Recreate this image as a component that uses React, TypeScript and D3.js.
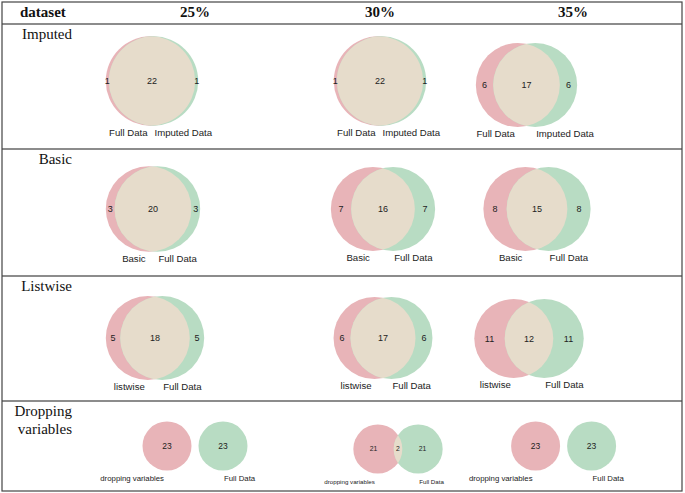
import React, { useEffect, useRef } from "react";
import * as d3 from "d3";

// ---------- data ----------
const rowNames = ["Imputed", "Basic", "Listwise", "Dropping variables"];
const columnLabels = ["25%", "30%", "35%"];
const leftOnly = [
  [1, 1, 6],
  [3, 7, 8],
  [5, 6, 11],
  [23, 21, 23],
];
const overlapCounts = [
  [22, 22, 17],
  [20, 16, 15],
  [18, 17, 12],
  [0, 2, 0],
];
const rightOnly = [
  [1, 1, 6],
  [3, 7, 8],
  [5, 6, 11],
  [23, 21, 23],
];
const leftSetNames = ["Full Data", "Basic", "listwise", "dropping variables"];
const rightSetNames = ["Imputed Data", "Full Data", "Full Data", "Full Data"];

// ---------- layout (not data) ----------
const W = 685;
const H = 493;
const tableLeft = 2;
const tableRight = 682;
const tableTop = 2;
const headerBottom = 24;
const rowTops = [24, 149, 276, 401];
const tableBottom = 491;
const headerX = [195, 380, 573];
const rowLabelRight = 72;
// diagram centre, vertical centre, radius of the first circle, font sizes
const cellLayout = [
  [
    { mx: 152, cy: 81, r: 44.7, fl: 9.6, fc: 9 },
    { mx: 380, cy: 81, r: 44.7, fl: 9.6, fc: 9 },
    { mx: 526.5, cy: 85, r: 42, fl: 9.6, fc: 9 },
  ],
  [
    { mx: 153, cy: 209, r: 42.8, fl: 9.6, fc: 9 },
    { mx: 383, cy: 209, r: 42, fl: 9.6, fc: 9 },
    { mx: 537, cy: 209, r: 42, fl: 9.6, fc: 9 },
  ],
  [
    { mx: 155, cy: 338, r: 42, fl: 9.6, fc: 9 },
    { mx: 383, cy: 338, r: 41, fl: 9.6, fc: 9 },
    { mx: 529, cy: 338.5, r: 39.5, fl: 9.6, fc: 9 },
  ],
  [
    { mx: 195, cy: 446, r: 24.5, fl: 7.8, fc: 8.5 },
    { mx: 398, cy: 449, r: 24.5, fl: 6.2, fc: 6.8 },
    { mx: 563.6, cy: 446, r: 24.5, fl: 7.8, fc: 8.5 },
  ],
];
const noOverlapGap = 7;

const PINK = "#e8b4b8";
const GREEN = "#b8dcc3";
const BEIGE = "#e6dccb";
const SERIF = "'Liberation Serif', 'DejaVu Serif', serif";
const SANS = "'Liberation Sans', Arial, sans-serif";

function lensArea(r1: number, r2: number, d: number) {
  if (d >= r1 + r2) return 0;
  if (d <= Math.abs(r1 - r2)) return Math.PI * Math.min(r1, r2) ** 2;
  const a = r1 * r1 * Math.acos((d * d + r1 * r1 - r2 * r2) / (2 * d * r1));
  const b = r2 * r2 * Math.acos((d * d + r2 * r2 - r1 * r1) / (2 * d * r2));
  const c =
    0.5 *
    Math.sqrt((-d + r1 + r2) * (d + r1 - r2) * (d - r1 + r2) * (d + r1 + r2));
  return a + b - c;
}

function solveDistance(r1: number, r2: number, target: number) {
  if (target <= 0) return r1 + r2 + noOverlapGap;
  let lo = Math.abs(r1 - r2) + 1e-9;
  let hi = r1 + r2;
  for (let i = 0; i < 80; i++) {
    const m = (lo + hi) / 2;
    if (lensArea(r1, r2, m) > target) lo = m;
    else hi = m;
  }
  return (lo + hi) / 2;
}

export default function App() {
  const ref = useRef<SVGSVGElement | null>(null);

  useEffect(() => {
    const svg = d3.select(ref.current);
    svg.selectAll("*").remove();
    svg.append("rect").attr("width", W).attr("height", H).attr("fill", "#fff");

    const defs = svg.append("defs");

    // header
    svg
      .append("text")
      .attr("x", 20)
      .attr("y", 17)
      .attr("font-family", SERIF)
      .attr("font-weight", "bold")
      .attr("font-size", 15)
      .attr("fill", "#111")
      .text("dataset");
    const xHeader = d3.scaleOrdinal<string, number>().domain(columnLabels).range(headerX);
    svg
      .selectAll("text.col")
      .data(columnLabels)
      .enter()
      .append("text")
      .attr("class", "col")
      .attr("x", (d) => xHeader(d))
      .attr("y", 17)
      .attr("text-anchor", "middle")
      .attr("font-family", SERIF)
      .attr("font-weight", "bold")
      .attr("font-size", 15)
      .attr("fill", "#111")
      .text((d) => d);

    // row labels
    rowNames.forEach((name, i) => {
      const words = name.split(" ");
      words.forEach((w, k) => {
        svg
          .append("text")
          .attr("x", rowLabelRight)
          .attr("y", rowTops[i] + 15 + k * 18)
          .attr("text-anchor", "end")
          .attr("font-family", SERIF)
          .attr("font-size", 15)
          .attr("fill", "#111")
          .text(w);
      });
    });

    // venn diagrams
    rowNames.forEach((_, i) => {
      columnLabels.forEach((__, j) => {
        const L = cellLayout[i][j];
        const a = leftOnly[i][j];
        const o = overlapCounts[i][j];
        const b = rightOnly[i][j];
        const sizeA = a + o;
        const sizeB = b + o;
        const rScale = d3.scaleSqrt().domain([0, sizeA]).range([0, L.r]);
        const r1 = rScale(sizeA);
        const r2 = rScale(sizeB);
        const area = d3.scaleLinear().domain([0, sizeA]).range([0, Math.PI * r1 * r1]);
        const dist = solveDistance(r1, r2, area(o));
        const cx1 = L.mx - dist / 2;
        const cx2 = L.mx + dist / 2;
        const g = svg.append("g");
        const clipId = `clip-${i}-${j}`;
        defs
          .append("clipPath")
          .attr("id", clipId)
          .append("circle")
          .attr("cx", cx1)
          .attr("cy", L.cy)
          .attr("r", r1);
        g.append("circle").attr("cx", cx1).attr("cy", L.cy).attr("r", r1).attr("fill", PINK);
        g.append("circle").attr("cx", cx2).attr("cy", L.cy).attr("r", r2).attr("fill", GREEN);
        if (o > 0) {
          g.append("circle")
            .attr("cx", cx2)
            .attr("cy", L.cy)
            .attr("r", r2)
            .attr("fill", BEIGE)
            .attr("clip-path", `url(#${clipId})`);
        }
        // count labels
        const leftX = (cx1 - r1 + Math.min(cx2 - r2, cx1 + r1)) / 2;
        const rightX = (Math.max(cx1 + r1, cx2 - r2) + cx2 + r2) / 2;
        const counts: [number, number][] = [
          [leftX, a],
          [rightX, b],
        ];
        if (o > 0) counts.push([(Math.max(cx1 - r1, cx2 - r2) + Math.min(cx1 + r1, cx2 + r2)) / 2, o]);
        counts.forEach(([x, v]) => {
          g.append("text")
            .attr("x", x)
            .attr("y", L.cy)
            .attr("dy", "0.35em")
            .attr("text-anchor", "middle")
            .attr("font-family", SANS)
            .attr("font-size", L.fc)
            .attr("fill", "#222")
            .text(String(v));
        });
        // set name labels
        const baseY = L.cy + Math.max(r1, r2) + 10;
        g.append("text")
          .attr("x", cx1 - 3)
          .attr("y", baseY)
          .attr("text-anchor", "end")
          .attr("font-family", SANS)
          .attr("font-size", L.fl)
          .attr("fill", "#222")
          .text(leftSetNames[i]);
        g.append("text")
          .attr("x", cx2 + 1)
          .attr("y", baseY)
          .attr("text-anchor", "start")
          .attr("font-family", SANS)
          .attr("font-size", L.fl)
          .attr("fill", "#222")
          .text(rightSetNames[i]);
      });
    });

    // table lines
    [headerBottom, ...rowTops.slice(1)].forEach((y) => {
      svg
        .append("line")
        .attr("x1", tableLeft)
        .attr("x2", tableRight)
        .attr("y1", y)
        .attr("y2", y)
        .attr("stroke", "#666")
        .attr("stroke-width", 1.5);
    });
    svg
      .append("rect")
      .attr("x", tableLeft)
      .attr("y", tableTop)
      .attr("width", tableRight - tableLeft)
      .attr("height", tableBottom - tableTop)
      .attr("fill", "none")
      .attr("stroke", "#444")
      .attr("stroke-width", 1.2);
  }, []);

  return (
    <svg
      ref={ref}
      width={W}
      height={H}
      style={{ position: "absolute", left: 0, top: 0, display: "block" }}
    />
  );
}
